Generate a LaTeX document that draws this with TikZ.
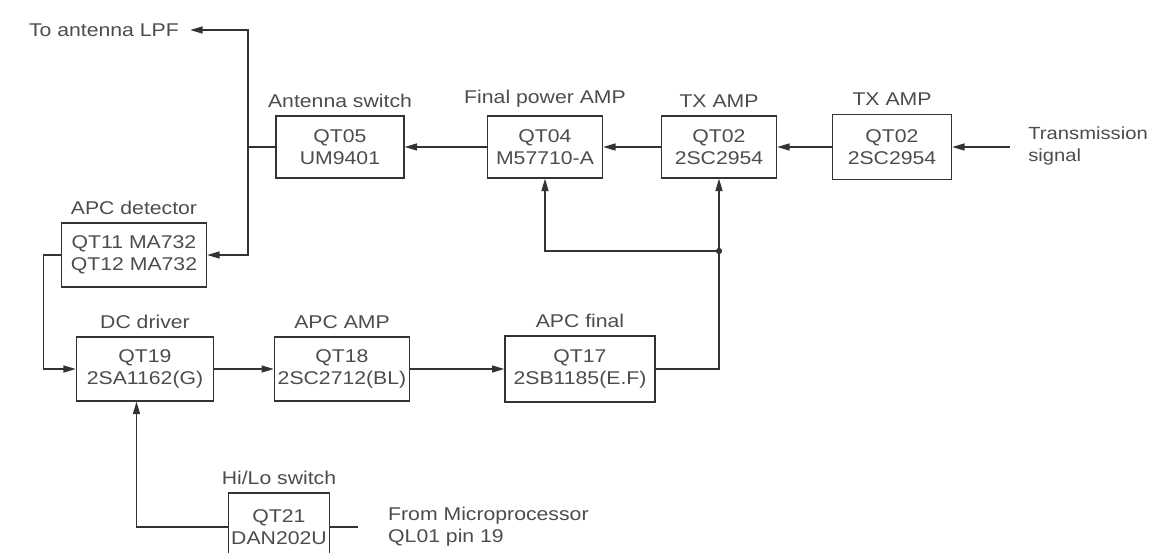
\documentclass[tikz,border=0pt]{standalone}
\usepackage{fontspec}
\setmainfont{Liberation Sans}[FakeStretch=1.15]
\usetikzlibrary{arrows.meta,positioning}
\newdimen\px \px=0.02cm
\begin{document}
\begin{tikzpicture}[x=0.02cm,y=-0.02cm,
  every node/.style={font=\fontsize{10.5}{12.5}\selectfont,text=black!70},
  blk/.style={draw=black!80,line width=0.8pt,align=center,inner sep=1pt},
  wire/.style={draw=black!80,line width=0.7pt},
  arr/.style={-{Triangle[length=7pt,width=4pt]}}]
\useasboundingbox (0,0) rectangle (1152,552);
\clip (0,0) rectangle (1152,552);
\node[blk,minimum width=128\px,minimum height=62\px] (qt05) at (340,147) {QT05\\UM9401};
\node[blk,minimum width=115\px,minimum height=62\px] (qt04) at (545,147) {QT04\\M57710-A};
\node[blk,minimum width=115\px,minimum height=62\px] (qt02a) at (719,147) {QT02\\2SC2954};
\node[blk,minimum width=119\px,minimum height=65\px] (qt02b) at (892,147) {QT02\\2SC2954};
\node[above=1pt of qt05] {Antenna switch};
\node[above=1pt of qt04] {Final power AMP};
\node[above=1pt of qt02a] {TX AMP};
\node[above=1pt of qt02b] {TX AMP};
\node[blk,minimum width=145\px,minimum height=64\px] (apcdet) at (134,255) {QT11 MA732\\QT12 MA732};
\node[above=1pt of apcdet] {APC detector};
\node[blk,minimum width=137\px,minimum height=64\px] (qt19) at (145,369) {QT19\\2SA1162(G)};
\node[blk,minimum width=135\px,minimum height=64\px] (qt18) at (342,369) {QT18\\2SC2712(BL)};
\node[blk,minimum width=150\px,minimum height=66\px] (qt17) at (580,369) {QT17\\2SB1185(E.F)};
\node[above=1pt of qt19] {DC driver};
\node[above=1pt of qt18] {APC AMP};
\node[above=1pt of qt17] {APC final};
\node[blk,minimum width=101\px,minimum height=68\px] (qt21) at (279,527) {QT21\\DAN202U};
\node[above=1pt of qt21] {Hi/Lo switch};
\node[anchor=east] (lpf) at (185,30) {To antenna LPF};
\node[anchor=west,align=left,inner sep=0pt,font=\fontsize{10}{12.5}\selectfont] (sig) at (1028,146) {Transmission\\signal};
\node[anchor=west,align=left] (micro) at (382,527) {From Microprocessor\\QL01 pin 19};
\coordinate (in) at (1010,147);
\coordinate (tap) at (248,147);
\coordinate (jn) at (719,251);
\draw[wire,arr] (in) -- (qt02b.east);
\draw[wire,arr] (qt02b.west) -- (qt02a.east);
\draw[wire,arr] (qt02a.west) -- (qt04.east);
\draw[wire,arr] (qt04.west) -- (qt05.east);
\draw[wire] (qt05.west) -- (tap);
\draw[wire,arr,shorten >=3pt] (tap) |- (lpf.east);
\draw[wire,arr] (tap) |- (apcdet.east);
\draw[wire,arr] (apcdet.west) -- ++(-17,0) |- (qt19.west);
\draw[wire,arr] (qt19.east) -- (qt18.west);
\draw[wire,arr] (qt18.east) -- (qt17.west);
\draw[wire] (qt17.east) -| (jn);
\draw[wire,arr] (jn) -- (qt02a.south);
\draw[wire,arr] (jn) -| (qt04.south);
\fill[black!80] (jn) circle (1.8pt);
\draw[wire,arr] (qt21.west) -| ([xshift=-8.5\px]qt19.south);
\draw[wire] (qt21.east) -- ++(28,0);
\end{tikzpicture}
\end{document}
